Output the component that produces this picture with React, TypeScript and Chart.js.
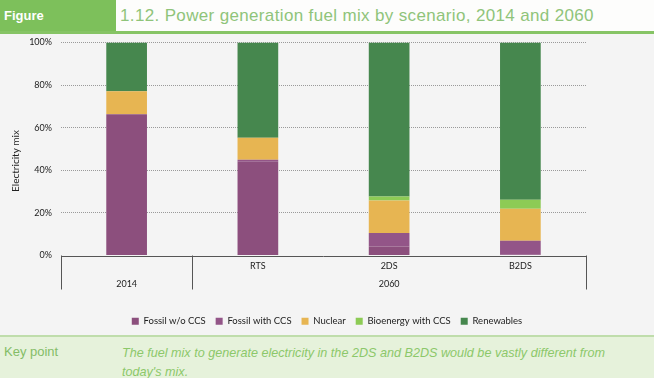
import React, { useEffect, useRef } from "react";
import { Chart, registerables } from "chart.js";

Chart.register(...registerables);

const categories = ["", "RTS", "2DS", "B2DS"];
const groupLabels = ["2014", "2060"];
const groupSpans = [1, 3];
const fossilWoCCS = [66.3, 44.0, 4.2, 0.4];
const fossilWithCCS = [0, 0.9, 6.4, 6.5];
const nuclear = [10.8, 10.3, 15.2, 15.0];
const bioenergyCCS = [0, 0, 1.9, 4.3];
const renewables = [22.9, 44.8, 72.3, 73.8];
const yTicks = [0, 20, 40, 60, 80, 100];
const yTitle = "Electricity mix";

const FONT = "Lato, 'Open Sans', sans-serif";

const groupPlugin = {
  id: "groupAxis",
  afterDraw(chart: any) {
    const x = chart.scales.x;
    const area = chart.chartArea;
    const ctx = chart.ctx;
    const n = categories.length;
    const w = (x.right - x.left) / n;
    ctx.save();
    ctx.strokeStyle = "#555";
    ctx.lineWidth = 1;
    ctx.beginPath();
    ctx.moveTo(x.left, Math.round(area.bottom) + 0.5);
    ctx.lineTo(x.right, Math.round(area.bottom) + 0.5);
    ctx.stroke();
    const bottom = area.bottom + 34;
    let idx = 0;
    const bounds: number[] = [x.left];
    groupSpans.forEach((s) => {
      idx += s;
      bounds.push(x.left + idx * w);
    });
    bounds.forEach((bx) => {
      ctx.beginPath();
      ctx.moveTo(Math.round(bx) + 0.5, area.bottom);
      ctx.lineTo(Math.round(bx) + 0.5, bottom);
      ctx.stroke();
    });
    ctx.fillStyle = "#222";
    ctx.font = `9px ${FONT}`;
    ctx.textAlign = "center";
    ctx.textBaseline = "middle";
    groupLabels.forEach((g, i) => {
      ctx.fillText(g, (bounds[i] + bounds[i + 1]) / 2, area.bottom + 28.5);
    });
    ctx.translate(16, (area.top + bottom) / 2 - 5);
    ctx.rotate(-Math.PI / 2);
    ctx.font = `10px ${FONT}`;
    ctx.fillText(yTitle, 0, 0);
    ctx.restore();
  },
};

export default function App() {
  const ref = useRef<HTMLCanvasElement>(null);
  useEffect(() => {
    if (!ref.current) return;
    const mk = (label: string, data: number[], color: string) => ({
      label,
      data,
      backgroundColor: color,
      borderWidth: 0,
      categoryPercentage: 1,
      barPercentage: 0.31,
    });
    const chart = new Chart(ref.current, {
      type: "bar",
      data: {
        labels: categories,
        datasets: [
          mk("Fossil w/o CCS", fossilWoCCS, "#8C4F7D"),
          mk("Fossil with CCS", fossilWithCCS, "#935588"),
          mk("Nuclear", nuclear, "#E7B552"),
          mk("Bioenergy with CCS", bioenergyCCS, "#8DCB55"),
          mk("Renewables", renewables, "#46874E"),
        ],
      },
      options: {
        animation: false,
        responsive: false,
        maintainAspectRatio: false,
        layout: { padding: { top: 0, right: 0, left: 0, bottom: 0 } },
        plugins: {
          legend: {
            position: "bottom",
            labels: {
              boxWidth: 7,
              boxHeight: 7,
              padding: 10,
              color: "#222",
              font: { family: FONT, size: 9.5 },
            },
          },
          tooltip: { enabled: false },
        },
        scales: {
          x: {
            stacked: true,
            grid: { display: false, drawTicks: false },
            border: { display: false },
            ticks: {
              color: "#222",
              font: { family: FONT, size: 9 },
              padding: 5,
              maxRotation: 0,
            },
            afterFit: (s: any) => {
              s.height = 51;
            },
          },
          y: {
            stacked: true,
            min: 0,
            max: 100,
            afterBuildTicks: (s: any) => {
              s.ticks = yTicks.map((v) => ({ value: v }));
            },
            grid: {
              color: (c: any) => (c.tick && c.tick.value === 0 ? "rgba(0,0,0,0)" : "#9a9a9a"),
              drawTicks: false,
            },
            border: { display: false, dash: [1, 1] },
            ticks: {
              color: "#222",
              font: { family: FONT, size: 9 },
              padding: 9,
              callback: (v: any) => v + "%",
            },
            afterFit: (s: any) => {
              s.width = 61;
            },
          },
          y2: {
            position: "right",
            display: true,
            grid: { display: false, drawTicks: false },
            border: { display: false },
            ticks: { display: false },
            afterFit: (s: any) => {
              s.width = 68;
            },
          },
        },
      },
      plugins: [groupPlugin],
    });
    return () => chart.destroy();
  }, []);

  return (
    <div
      style={{
        position: "absolute",
        left: 0,
        top: 0,
        width: 654,
        height: 378,
        background: "#F4F4F4",
        overflow: "hidden",
        fontFamily: "'Liberation Sans', Arial, sans-serif",
      }}
    >
      <div
        style={{
          position: "absolute",
          left: 0,
          top: 0,
          width: 654,
          height: 31,
          background: "#FDFDFC",
        }}
      />
      <div
        style={{
          position: "absolute",
          left: 0,
          top: 0,
          width: 116,
          height: 31,
          background: "#7DC05B",
          color: "#fff",
          fontSize: 13,
          fontWeight: "bold",
          lineHeight: "31px",
          paddingLeft: 4,
          boxSizing: "border-box",
        }}
      >
        Figure
      </div>
      <div
        style={{
          position: "absolute",
          left: 120,
          top: 6,
          fontSize: 17,
          letterSpacing: 0.35,
          color: "#8FC47A",
          whiteSpace: "nowrap",
        }}
      >
        1.12. Power generation fuel mix by scenario, 2014 and 2060
      </div>
      <div
        style={{
          position: "absolute",
          left: 0,
          top: 31,
          width: 654,
          height: 3,
          background: "#86C465",
        }}
      />
      <canvas
        ref={ref}
        width={654}
        height={308}
        style={{ position: "absolute", left: 0, top: 28, width: 654, height: 308 }}
      />
      <div
        style={{
          position: "absolute",
          left: 0,
          top: 335,
          width: 654,
          height: 43,
          background: "#E6F2DB",
          borderTop: "2px solid #BFDDAB",
          boxSizing: "border-box",
        }}
      >
        <div
          style={{
            position: "absolute",
            left: 4,
            top: 7,
            fontSize: 13,
            color: "#84BD67",
          }}
        >
          Key point
        </div>
        <div
          style={{
            position: "absolute",
            left: 122,
            top: 6,
            width: 500,
            fontSize: 13,
            lineHeight: "19px",
            fontStyle: "italic",
            color: "#8CC86A",
            transform: "scaleX(0.97)",
            transformOrigin: "left top",
          }}
        >
          The fuel mix to generate electricity in the 2DS and B2DS would be vastly different from today's mix.
        </div>
      </div>
    </div>
  );
}
